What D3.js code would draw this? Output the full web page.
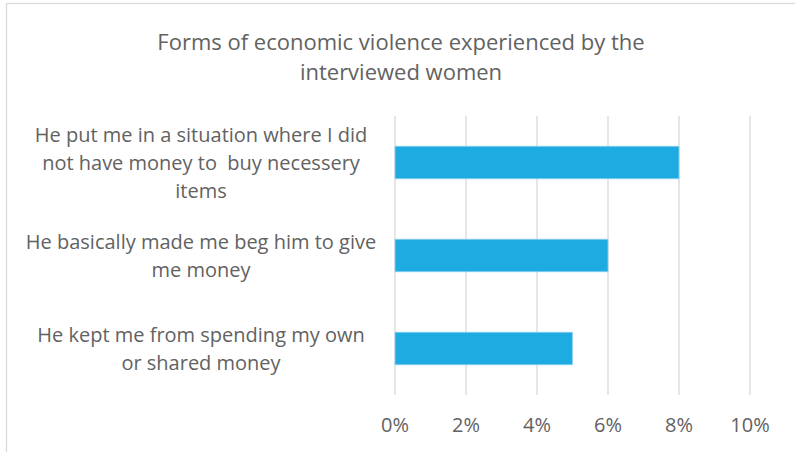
<!DOCTYPE html>
<html>
<head>
<meta charset="utf-8">
<script src="https://cdn.jsdelivr.net/npm/d3@7"></script>
<style>
  body { margin: 0; background: #fff; }
  text { font-family: "Open Sans", sans-serif; fill: #626262; }
</style>
</head>
<body>
<div id="chart"></div>
<script>
const categories = [
  ["He put me in a situation where I did", "not have money to  buy necessery", "items"],
  ["He basically made me beg him to give", "me money"],
  ["He kept me from spending my own", "or shared money"]
];
const values = [0.08, 0.06, 0.05];
const ticks = [0, 0.02, 0.04, 0.06, 0.08, 0.10];
const titleLines = ["Forms of economic violence experienced by the", "interviewed women"];

const width = 795, height = 452;
const margin = { top: 116, right: 45, bottom: 57, left: 395 };

const svg = d3.select("#chart").append("svg")
  .attr("width", width)
  .attr("height", height);

// chart frame (runs off the right and bottom)
svg.append("rect")
  .attr("x", 6.5).attr("y", 3.5)
  .attr("width", 820).attr("height", 480)
  .attr("fill", "none")
  .attr("stroke", "#d9d9d9")
  .attr("stroke-width", 1.3);

const x = d3.scaleLinear().domain([0, 0.10]).range([margin.left, width - margin.right]);
const y = d3.scaleBand()
  .domain(d3.range(categories.length))
  .range([margin.top, height - margin.bottom])
  .paddingInner(0.65)
  .paddingOuter(0.325);

// gridlines
svg.append("g")
  .selectAll("line")
  .data(ticks)
  .enter()
  .append("line")
  .attr("x1", d => x(d)).attr("x2", d => x(d))
  .attr("y1", margin.top).attr("y2", height - margin.bottom)
  .attr("stroke", "#d9d9d9")
  .attr("stroke-width", 1.3);

// bars
svg.append("g")
  .selectAll("rect")
  .data(values)
  .enter()
  .append("rect")
  .attr("x", x(0))
  .attr("y", (d, i) => y(i))
  .attr("width", d => x(d) - x(0))
  .attr("height", y.bandwidth())
  .attr("fill", "#1eabe2")
  .attr("stroke", "#8fd3f0")
  .attr("stroke-width", 0.8);

// x tick labels
svg.append("g")
  .selectAll("text")
  .data(ticks)
  .enter()
  .append("text")
  .attr("x", d => x(d))
  .attr("y", 432)
  .attr("text-anchor", "middle")
  .style("font-size", "20px")
  .text(d3.format(".0%"));

// category labels
const lineH = 28;
const cat = svg.append("g")
  .selectAll("text")
  .data(categories)
  .enter()
  .append("text")
  .attr("text-anchor", "middle")
  .attr("xml:space", "preserve")
  .style("font-size", "20px");

cat.each(function(lines, i) {
  const cy = y(i) + y.bandwidth() / 2;
  const top = cy - (lines.length - 1) * lineH / 2;
  d3.select(this).selectAll("tspan")
    .data(lines)
    .enter()
    .append("tspan")
    .attr("x", 201)
    .attr("y", (d, j) => top + j * lineH)
    .attr("dy", "0.35em")
    .text(d => d);
});

// title
svg.append("text")
  .attr("text-anchor", "middle")
  .style("font-size", "22px")
  .selectAll("tspan")
  .data(titleLines)
  .enter()
  .append("tspan")
  .attr("x", 401)
  .attr("y", (d, i) => 50 + i * 30)
  .text(d => d);
</script>
</body>
</html>
